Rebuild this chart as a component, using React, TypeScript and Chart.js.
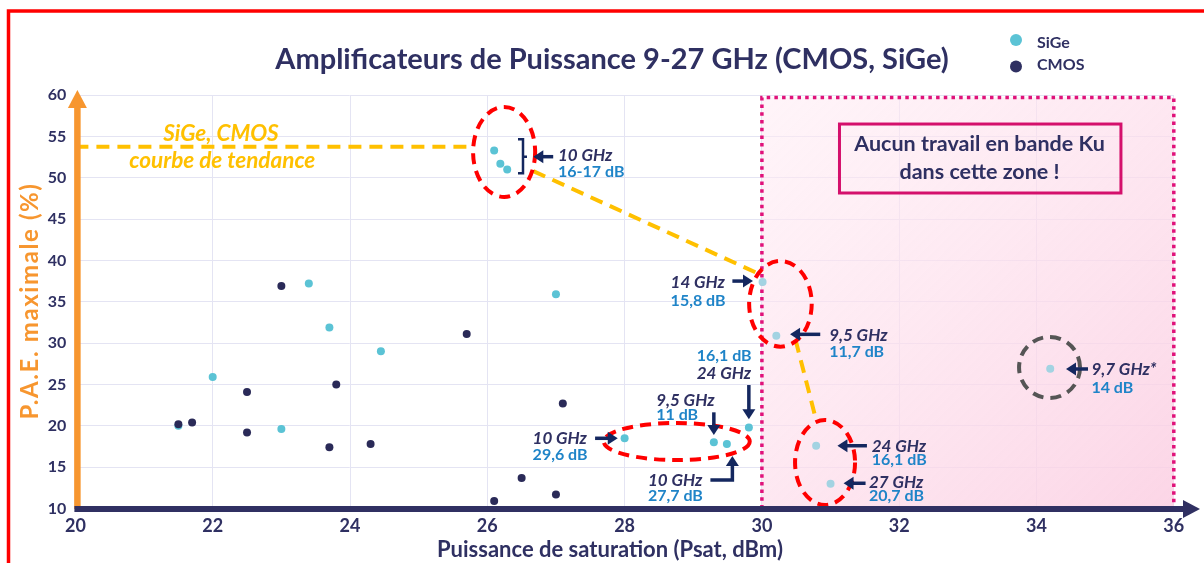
import React, { useEffect, useRef } from 'react';
import { Chart, registerables } from 'chart.js';

Chart.register(...registerables);

// ---------- data ----------
const sigeX = [26.1, 26.19, 26.29, 23.4, 23.7, 24.45, 22.0, 21.5, 23.0, 27.0, 30.01, 30.21, 28.0, 29.3, 29.49, 29.81, 30.79, 31.0, 34.2];
const sigeY = [53.3, 51.7, 51.0, 37.2, 31.9, 29.0, 25.9, 20.0, 19.6, 35.9, 37.4, 30.9, 18.5, 18.0, 17.8, 19.8, 17.6, 13.0, 26.9];
const cmosX = [23.0, 22.5, 23.8, 21.5, 21.7, 22.5, 23.7, 24.3, 20.0, 25.7, 27.1, 26.5, 27.0, 26.1];
const cmosY = [36.9, 24.1, 25.0, 20.2, 20.4, 19.2, 17.4, 17.8, 18.0, 31.1, 22.7, 13.7, 11.7, 10.9];

const trend1X = [20, 25.78];
const trend1Y = [53.75, 53.75];
const trend2X = [26.67, 29.95];
const trend2Y = [50.8, 38.4];
const trend3X = [30.49, 30.79];
const trend3Y = [30.4, 20.7];

const xTicks = [20, 22, 24, 26, 28, 30, 32, 34, 36];
const yTicks = [10, 15, 20, 25, 30, 35, 40, 45, 50, 55, 60];

const TITLE = 'Amplificateurs de Puissance 9-27 GHz (CMOS, SiGe)';
const X_TITLE = 'Puissance de saturation (Psat, dBm)';
const Y_TITLE = 'P.A.E. maximale (%)';

// ---------- styles ----------
const NAVY = '#2f3062';
const CYAN = '#5bc3d5';
const CYAN_LIGHT = '#a3d3e2';
const DB_BLUE = '#1f84c8';
const ARROW = '#14275f';
const ORANGE = '#f7962f';
const YELLOW = '#ffc000';
const MAGENTA = '#e0127a';
const FONT = 'Lato, "Open Sans", sans-serif';

// annotations (in data units)
const zone = { x0: 30, x1: 36, y0: 10, y1: 59.7 };
const ellipses = [
  { x: 26.245, y: 53.11, rx: 0.452, ry: 5.44, color: '#ff0000' },
  { x: 30.27, y: 34.75, rx: 0.456, ry: 5.18, color: '#ff0000' },
  { x: 30.92, y: 15.56, rx: 0.437, ry: 5.14, color: '#ff0000' },
  { x: 28.76, y: 18.1, rx: 1.063, ry: 2.24, color: '#ff0000' },
  { x: 34.19, y: 27.05, rx: 0.444, ry: 3.69, color: '#555555' },
];
type Lbl = { x: number; y: number; t: string; k: 'ghz' | 'db' };
const labels: Lbl[] = [
  { x: 27.03, y: 52.74, t: '10 GHz', k: 'ghz' },
  { x: 27.03, y: 50.73, t: '16-17 dB', k: 'db' },
  { x: 28.67, y: 37.45, t: '14 GHz', k: 'ghz' },
  { x: 28.67, y: 35.21, t: '15,8 dB', k: 'db' },
  { x: 30.98, y: 30.98, t: '9,5 GHz', k: 'ghz' },
  { x: 30.98, y: 29.05, t: '11,7 dB', k: 'db' },
  { x: 29.05, y: 28.56, t: '16,1 dB', k: 'db' },
  { x: 29.05, y: 26.45, t: '24 GHz', k: 'ghz' },
  { x: 28.46, y: 23.12, t: '9,5 GHz', k: 'ghz' },
  { x: 28.46, y: 21.43, t: '11 dB', k: 'db' },
  { x: 26.66, y: 18.59, t: '10 GHz', k: 'ghz' },
  { x: 26.66, y: 16.6, t: '29,6 dB', k: 'db' },
  { x: 28.34, y: 13.42, t: '10 GHz', k: 'ghz' },
  { x: 28.34, y: 11.63, t: '27,7 dB', k: 'db' },
  { x: 31.6, y: 17.59, t: '24 GHz', k: 'ghz' },
  { x: 31.6, y: 15.94, t: '16,1 dB', k: 'db' },
  { x: 31.56, y: 13.25, t: '27 GHz', k: 'ghz' },
  { x: 31.56, y: 11.6, t: '20,7 dB', k: 'db' },
  { x: 34.8, y: 26.87, t: '9,7 GHz*', k: 'ghz' },
  { x: 34.8, y: 24.63, t: '14 dB', k: 'db' },
];
const arrows: number[][][] = [
  [[26.96, 52.54], [26.67, 52.54]],
  [[29.57, 37.5], [29.87, 37.5]],
  [[30.85, 31.06], [30.41, 31.06]],
  [[29.81, 24.93], [29.81, 20.79]],
  [[29.3, 21.63], [29.3, 18.89]],
  [[27.57, 18.49], [27.9, 18.49]],
  [[29.25, 13.45], [29.57, 13.45], [29.57, 16.35]],
  [[31.53, 17.59], [31.1, 17.59]],
  [[31.51, 13.05], [31.19, 13.05]],
  [[34.75, 26.87], [34.43, 26.87]],
];
const bracket = { x: 26.52, y0: 54.64, y1: 50.53, ym: 52.54 };
const trendText = [
  { x: 22.12, y: 55.44, t: 'SiGe, CMOS' },
  { x: 22.14, y: 52.1, t: 'courbe de tendance' },
];
const noteBox = { x0: 31.13, y0: 56.49, x1: 35.23, y1: 48.15 };
const noteText = [
  { x: 33.17, y: 54.15, t: 'Aucun travail en bande Ku' },
  { x: 33.17, y: 50.83, t: 'dans cette zone !' },
];

function textC(ctx: CanvasRenderingContext2D, t: string, x: number, yc: number, size: number, font: string, color: string, align: CanvasTextAlign) {
  ctx.save();
  ctx.font = font;
  ctx.fillStyle = color;
  ctx.textAlign = align;
  ctx.textBaseline = 'alphabetic';
  ctx.fillText(t, x, yc + 0.36 * size);
  ctx.restore();
}

function arrowPath(ctx: CanvasRenderingContext2D, pts: number[][]) {
  const n = pts.length;
  const [tx, ty] = pts[n - 1];
  const [px, py] = pts[n - 2];
  const ang = Math.atan2(ty - py, tx - px);
  const head = 10;
  const hw = 6.5;
  ctx.save();
  ctx.strokeStyle = ARROW;
  ctx.fillStyle = ARROW;
  ctx.lineWidth = 3.5;
  ctx.lineJoin = 'miter';
  ctx.beginPath();
  ctx.moveTo(pts[0][0], pts[0][1]);
  for (let i = 1; i < n - 1; i++) ctx.lineTo(pts[i][0], pts[i][1]);
  ctx.lineTo(tx - Math.cos(ang) * head * 0.8, ty - Math.sin(ang) * head * 0.8);
  ctx.stroke();
  ctx.beginPath();
  ctx.moveTo(tx, ty);
  ctx.lineTo(tx - Math.cos(ang) * head - Math.sin(ang) * hw, ty - Math.sin(ang) * head + Math.cos(ang) * hw);
  ctx.lineTo(tx - Math.cos(ang) * head + Math.sin(ang) * hw, ty - Math.sin(ang) * head - Math.cos(ang) * hw);
  ctx.closePath();
  ctx.fill();
  ctx.restore();
}

const decor = {
  id: 'decor',
  beforeDatasetsDraw(chart: any) {
    const { ctx, scales } = chart;
    const x = scales.x, y = scales.y;
    const l = x.getPixelForValue(zone.x0), r = x.getPixelForValue(zone.x1);
    const t = y.getPixelForValue(zone.y1), b = y.getPixelForValue(zone.y0);
    ctx.save();
    const g = ctx.createLinearGradient(l, t, r, b);
    g.addColorStop(0, 'rgba(255,236,244,0.55)');
    g.addColorStop(1, 'rgba(251,206,226,0.85)');
    ctx.fillStyle = g;
    ctx.fillRect(l, t, r - l, b - t);
    ctx.strokeStyle = MAGENTA;
    ctx.lineWidth = 3.5;
    ctx.setLineDash([3.5, 4.2]);
    ctx.beginPath();
    ctx.moveTo(l, b);
    ctx.lineTo(l, t);
    ctx.lineTo(r, t);
    ctx.lineTo(r, b);
    ctx.stroke();
    ctx.restore();
  },
  afterDatasetsDraw(chart: any) {
    const { ctx, scales } = chart;
    const x = scales.x, y = scales.y;
    const X = (v: number) => x.getPixelForValue(v);
    const Y = (v: number) => y.getPixelForValue(v);
    ellipses.forEach((e) => {
      ctx.save();
      ctx.strokeStyle = e.color;
      ctx.lineWidth = 4;
      ctx.setLineDash([11, 7]);
      ctx.beginPath();
      ctx.ellipse(X(e.x), Y(e.y), Math.abs(X(e.x + e.rx) - X(e.x)), Math.abs(Y(e.y + e.ry) - Y(e.y)), 0, 0, Math.PI * 2);
      ctx.stroke();
      ctx.restore();
    });
    ctx.save();
    ctx.strokeStyle = ARROW;
    ctx.lineWidth = 2.5;
    const bx = X(bracket.x);
    ctx.beginPath();
    ctx.moveTo(bx - 5, Y(bracket.y0));
    ctx.lineTo(bx, Y(bracket.y0));
    ctx.lineTo(bx, Y(bracket.y1));
    ctx.lineTo(bx - 5, Y(bracket.y1));
    ctx.moveTo(bx, Y(bracket.ym));
    ctx.lineTo(bx + 4, Y(bracket.ym));
    ctx.stroke();
    ctx.restore();
    arrows.forEach((a) => arrowPath(ctx, a.map(([vx, vy]) => [X(vx), Y(vy)])));
    labels.forEach((lb) => {
      if (lb.k === 'ghz') textC(ctx, lb.t, X(lb.x), Y(lb.y), 17, `italic bold 17px ${FONT}`, NAVY, 'left');
      else textC(ctx, lb.t, X(lb.x), Y(lb.y), 16, `bold 16px ${FONT}`, DB_BLUE, 'left');
    });
    trendText.forEach((tt) => textC(ctx, tt.t, X(tt.x), Y(tt.y), 22.5, `italic bold 22.5px ${FONT}`, YELLOW, 'center'));
    ctx.save();
    ctx.strokeStyle = '#d4106c';
    ctx.lineWidth = 3;
    ctx.strokeRect(X(noteBox.x0), Y(noteBox.y0), X(noteBox.x1) - X(noteBox.x0), Y(noteBox.y1) - Y(noteBox.y0));
    ctx.restore();
    noteText.forEach((nt) => textC(ctx, nt.t, X(nt.x), Y(nt.y), 21.5, `bold 21.5px ${FONT}`, NAVY, 'center'));
  },
  afterDraw(chart: any) {
    const { ctx, scales, chartArea } = chart;
    const x = scales.x;
    const ax = x.getPixelForValue(20) + 2;
    const ay = chartArea.bottom + 0.5;
    ctx.save();
    ctx.strokeStyle = ORANGE;
    ctx.fillStyle = ORANGE;
    ctx.lineWidth = 6.5;
    ctx.beginPath();
    ctx.moveTo(ax, ay);
    ctx.lineTo(ax, 104);
    ctx.stroke();
    ctx.beginPath();
    ctx.moveTo(ax, 90);
    ctx.lineTo(ax - 9.5, 108);
    ctx.lineTo(ax + 9.5, 108);
    ctx.closePath();
    ctx.fill();
    ctx.strokeStyle = '#303062';
    ctx.fillStyle = '#303062';
    ctx.lineWidth = 6;
    ctx.beginPath();
    ctx.moveTo(ax - 3, ay);
    ctx.lineTo(1186, ay);
    ctx.stroke();
    ctx.beginPath();
    ctx.moveTo(1200, ay);
    ctx.lineTo(1183, ay - 9);
    ctx.lineTo(1183, ay + 9);
    ctx.closePath();
    ctx.fill();
    ctx.strokeStyle = '#ff0000';
    ctx.lineWidth = 3.5;
    ctx.beginPath();
    ctx.moveTo(8.5, 563);
    ctx.lineTo(8.5, 11);
    ctx.lineTo(1204, 11);
    ctx.stroke();
    ctx.restore();
    ctx.save();
    ctx.font = `bold 29px ${FONT}`;
    ctx.fillStyle = NAVY;
    ctx.textAlign = 'center';
    ctx.fillText(TITLE, 612, 68.5);
    ctx.font = `bold 22px ${FONT}`;
    ctx.fillText(X_TITLE, 610, 557);
    ctx.translate(37.5, 301);
    ctx.rotate(-Math.PI / 2);
    ctx.font = `bold 24px ${FONT}`;
    (ctx as any).letterSpacing = '1.6px';
    ctx.fillStyle = ORANGE;
    ctx.fillText(Y_TITLE, 0, 0);
    ctx.restore();
    ctx.save();
    ctx.fillStyle = CYAN;
    ctx.beginPath();
    ctx.arc(1016, 40, 6, 0, Math.PI * 2);
    ctx.fill();
    ctx.fillStyle = NAVY;
    ctx.beginPath();
    ctx.arc(1016, 66.5, 6, 0, Math.PI * 2);
    ctx.fill();
    ctx.restore();
    textC(ctx, 'SiGe', 1037, 42.7, 16, `bold 16px ${FONT}`, NAVY, 'left');
    textC(ctx, 'CMOS', 1037, 64.3, 16, `bold 16px ${FONT}`, NAVY, 'left');
  },
};

const toPts = (xs: number[], ys: number[]) => xs.map((v, i) => ({ x: v, y: ys[i] }));

export default function App() {
  const ref = useRef<HTMLCanvasElement | null>(null);
  useEffect(() => {
    if (!ref.current) return;
    const pointColor = (base: string, light: string) => (c: any) => (c.raw && c.raw.x >= 30 ? light : base);
    const trendStyle = {
      type: 'scatter' as const,
      showLine: true,
      borderColor: YELLOW,
      borderWidth: 4,
      borderDash: [13, 8],
      pointRadius: 0,
      order: 0,
    };
    const chart = new Chart(ref.current, {
      type: 'scatter',
      data: {
        datasets: [
          { ...trendStyle, label: 'trend1', data: toPts(trend1X, trend1Y) },
          { ...trendStyle, label: 'trend2', data: toPts(trend2X, trend2Y) },
          { ...trendStyle, label: 'trend3', data: toPts(trend3X, trend3Y) },
          {
            label: 'CMOS',
            data: toPts(cmosX, cmosY),
            backgroundColor: '#2a2a58',
            borderWidth: 0,
            pointRadius: 4,
            order: 1,
          },
          {
            label: 'SiGe',
            data: toPts(sigeX, sigeY),
            backgroundColor: pointColor(CYAN, CYAN_LIGHT),
            borderWidth: 0,
            pointRadius: 4,
            order: 2,
          },
        ],
      },
      options: {
        responsive: false,
        animation: false,
        events: [],
        layout: { padding: { top: 95, right: 30.2, left: 0, bottom: 0 } },
        plugins: { legend: { display: false }, tooltip: { enabled: false }, title: { display: false } },
        scales: {
          x: {
            type: 'linear',
            min: 20,
            max: 36,
            afterBuildTicks: (s: any) => { s.ticks = xTicks.map((v) => ({ value: v })); },
            afterFit: (s: any) => { s.height = 54.5; },
            ticks: { color: NAVY, font: { family: FONT, weight: 'bold', size: 18 }, padding: 7, maxRotation: 0 },
            grid: { color: '#e4e4f3', lineWidth: 1, drawTicks: false },
            border: { display: false },
          },
          y: {
            type: 'linear',
            min: 10,
            max: 60,
            afterBuildTicks: (s: any) => { s.ticks = yTicks.map((v) => ({ value: v })); },
            afterFit: (s: any) => { s.width = 75.4; },
            ticks: { color: NAVY, font: { family: FONT, weight: 'bold', size: 16 }, padding: 9 },
            grid: { color: '#e4e4f3', lineWidth: 1, drawTicks: false },
            border: { display: false },
          },
        },
      },
      plugins: [decor],
    } as any);
    return () => chart.destroy();
  }, []);
  return (
    <div style={{ position: 'fixed', left: 0, top: 0, width: 1204, height: 563, background: '#fff' }}>
      <canvas ref={ref} width={1204} height={563} style={{ display: 'block' }} />
    </div>
  );
}
